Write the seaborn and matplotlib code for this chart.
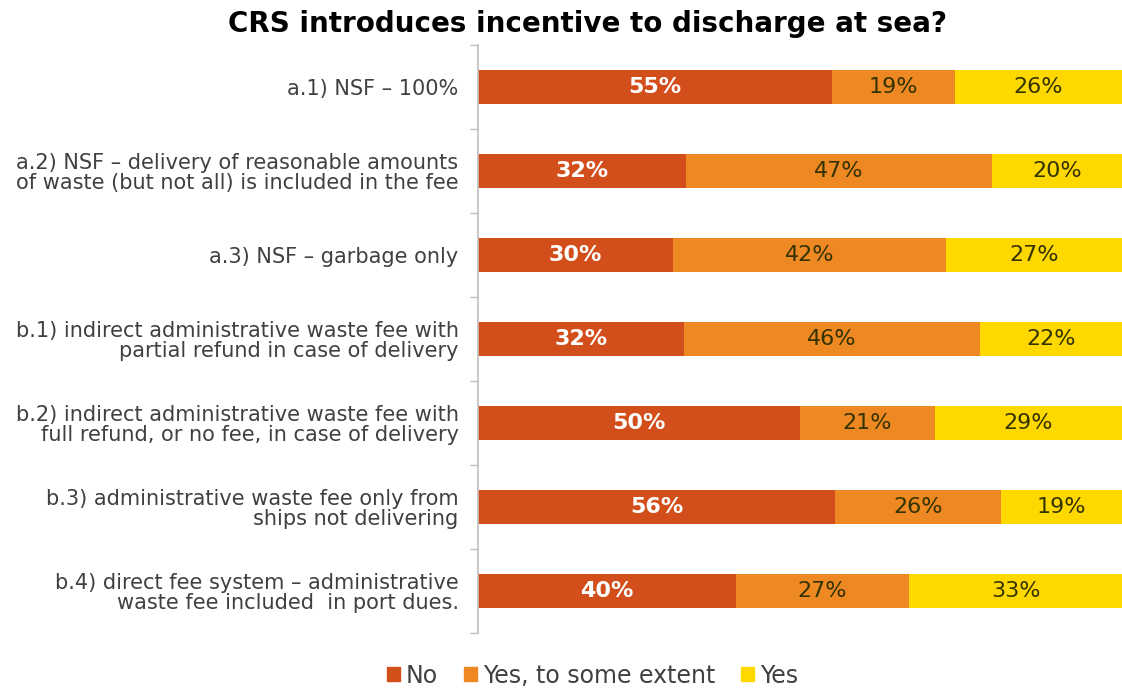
import matplotlib
matplotlib.use("Agg")
import matplotlib.pyplot as plt
import seaborn as sns
import pandas as pd
import numpy as np

categories = [
    "a.1) NSF \u2013 100%",
    "a.2) NSF \u2013 delivery of reasonable amounts\nof waste (but not all) is included in the fee",
    "a.3) NSF \u2013 garbage only",
    "b.1) indirect administrative waste fee with\npartial refund in case of delivery",
    "b.2) indirect administrative waste fee with\nfull refund, or no fee, in case of delivery",
    "b.3) administrative waste fee only from\nships not delivering",
    "b.4) direct fee system \u2013 administrative\nwaste fee included  in port dues.",
]
no_vals = [55, 32, 30, 32, 50, 56, 40]
some_vals = [19, 47, 42, 46, 21, 26, 27]
yes_vals = [26, 20, 27, 22, 29, 19, 33]
series_names = ["No", "Yes, to some extent", "Yes"]
colors = ["#D24E1A", "#EE8822", "#FFD800"]

sns.set_theme(style="white")
plt.rcParams['font.family'] = ['DejaVu Sans']

no = np.array(no_vals, float)
some = np.array(some_vals, float)
yes = np.array(yes_vals, float)
tot = no + some + yes
p_no = no / tot * 100
p_some = some / tot * 100
p_yes = yes / tot * 100

df = pd.DataFrame({
    "cat": categories,
    "c1": p_no,
    "c2": p_no + p_some,
    "c3": p_no + p_some + p_yes,
})

fig = plt.figure(figsize=(11.22, 6.88), dpi=100)
ax = fig.add_axes([0.426, 0.080, 0.574, 0.855])

for col, c, name in zip(["c3", "c2", "c1"], colors[::-1], series_names[::-1]):
    sns.barplot(data=df, x=col, y="cat", color=c, width=0.4, ax=ax,
                orient="h", saturation=1, label=name, edgecolor="none")

# labels
for i in range(len(categories)):
    starts = [0, p_no[i], p_no[i] + p_some[i]]
    widths = [p_no[i], p_some[i], p_yes[i]]
    vals = [no_vals[i], some_vals[i], yes_vals[i]]
    for j in range(3):
        cx = starts[j] + widths[j] / 2
        if j == 0:
            ax.text(cx, i, f"{vals[j]}%", ha="center", va="center",
                    color="white", fontsize=16, fontweight="bold")
        else:
            ax.text(cx, i, f"{vals[j]}%", ha="center", va="center",
                    color="#333300", fontsize=16)

ax.set_xlim(0, 100)
ax.set_ylim(len(categories) - 0.5, -0.5)
ax.set_xlabel("")
ax.set_ylabel("")
ax.set_xticks([])
ax.tick_params(axis="y", length=0, pad=14, labelsize=15, labelcolor="#404040")
for lab in ax.get_yticklabels():
    lab.set_horizontalalignment("right")
    lab.set_multialignment("right")
    lab.set_linespacing(1.0)

ax.set_yticks(np.arange(-0.5, len(categories), 1.0), minor=True)
ax.tick_params(axis="y", which="minor", length=6, color="#BFBFBF", width=1, left=True)

for s in ["top", "right", "bottom"]:
    ax.spines[s].set_visible(False)
ax.spines["left"].set_color("#BFBFBF")
ax.spines["left"].set_linewidth(1.2)

if ax.get_legend():
    ax.get_legend().remove()
handles = [plt.Rectangle((0, 0), 1, 1, color=c) for c in colors]
fig.legend(handles, series_names, loc="center", bbox_to_anchor=(0.528, 0.018),
           ncol=3, frameon=False, fontsize=17, handlelength=0.55, handleheight=0.55,
           handletextpad=0.25, columnspacing=1.1, labelcolor="#404040")

fig.suptitle("CRS introduces incentive to discharge at sea?", x=0.524, y=0.985,
             fontsize=20, fontweight="bold", color="black")

fig.savefig("out.png", dpi=100)
